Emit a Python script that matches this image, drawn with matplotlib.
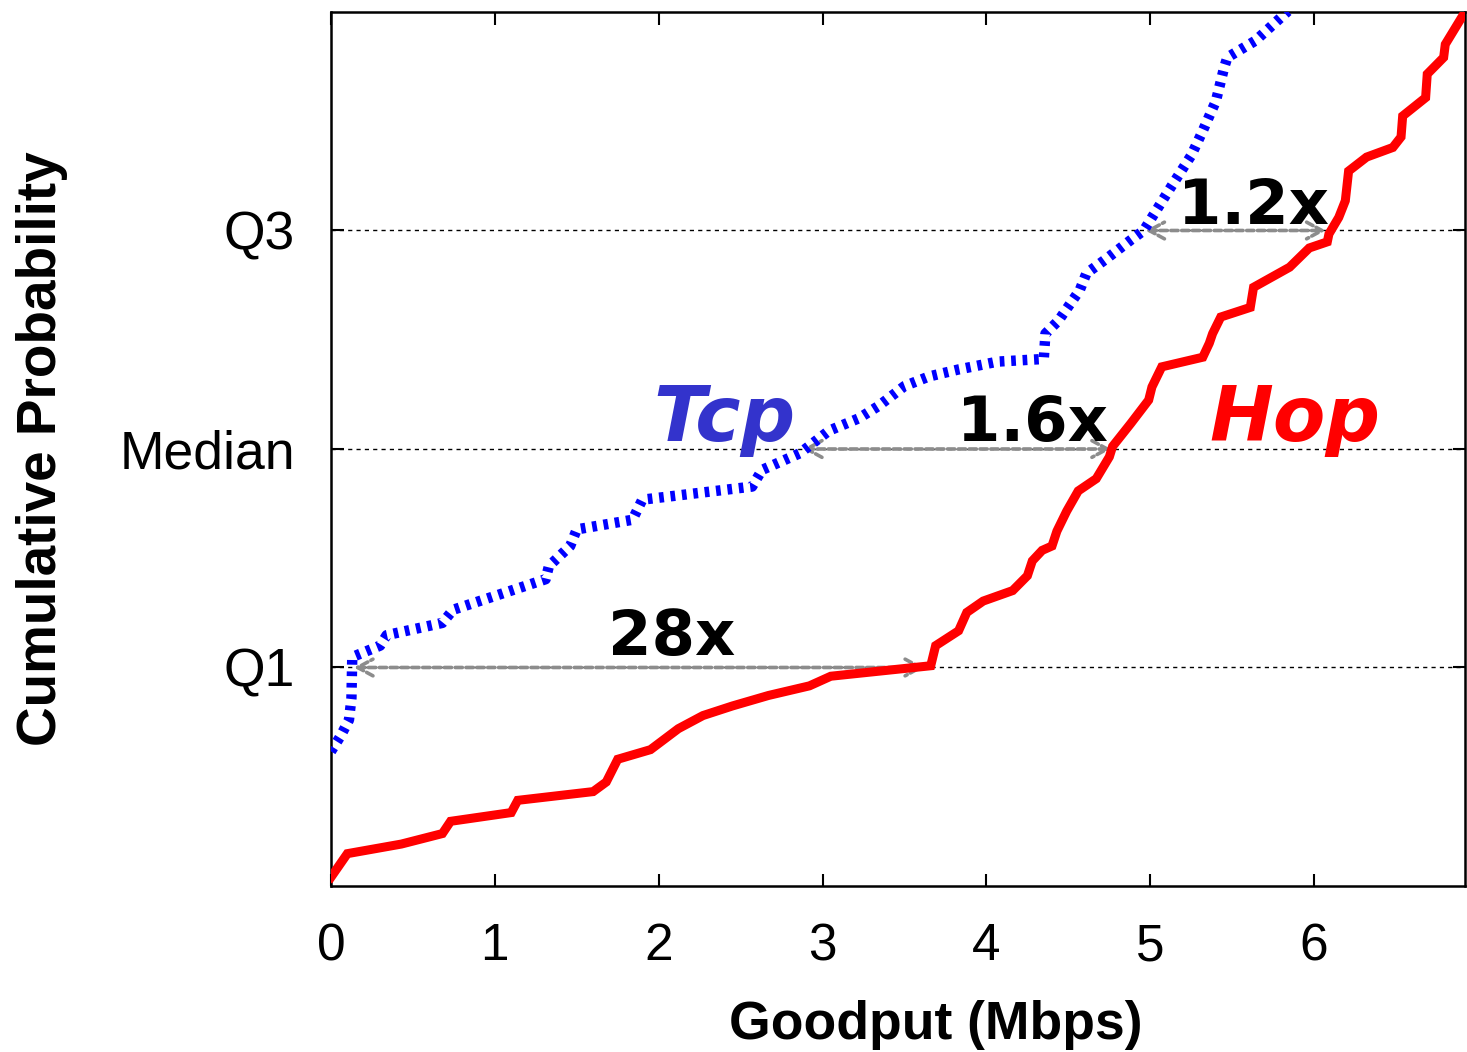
import matplotlib
matplotlib.use("Agg")
import matplotlib.pyplot as plt
from matplotlib.patches import FancyArrowPatch

# ---- data ----
hop_x = [0.00, 0.10, 0.43, 0.68, 0.73, 1.10, 1.14, 1.60, 1.68, 1.75, 1.95, 2.12,
         2.27, 2.45, 2.67, 2.92, 3.05, 3.66, 3.69, 3.83, 3.88, 3.98, 4.16, 4.25,
         4.28, 4.34, 4.40, 4.43, 4.49, 4.56, 4.67, 4.75, 4.77, 4.88, 4.99, 5.01,
         5.07, 5.32, 5.36, 5.38, 5.43, 5.61, 5.63, 5.85, 5.97, 6.08, 6.09, 6.15,
         6.19, 6.21, 6.32, 6.48, 6.53, 6.54, 6.68, 6.69, 6.79, 6.80, 6.93]
hop_y = [0.010, 0.037, 0.048, 0.060, 0.074, 0.084, 0.098, 0.108, 0.119, 0.145,
         0.156, 0.180, 0.195, 0.206, 0.218, 0.229, 0.240, 0.252, 0.275, 0.292,
         0.313, 0.326, 0.338, 0.355, 0.372, 0.384, 0.389, 0.406, 0.429, 0.452,
         0.466, 0.491, 0.503, 0.529, 0.556, 0.571, 0.594, 0.605, 0.621, 0.632,
         0.651, 0.662, 0.685, 0.708, 0.730, 0.737, 0.746, 0.765, 0.784, 0.818,
         0.834, 0.845, 0.857, 0.881, 0.902, 0.929, 0.948, 0.963, 1.003]

tcp_x = [0.00, 0.06, 0.11, 0.125, 0.13, 0.30, 0.34, 0.68, 0.745, 1.31, 1.33,
         1.46, 1.50, 1.84, 1.90, 2.57, 2.63, 2.86, 3.04, 3.22, 3.34, 3.50, 3.65,
         3.83, 4.07, 4.35, 4.36, 4.44, 4.57, 4.61, 4.72, 4.88, 4.96, 5.05, 5.12,
         5.25, 5.32, 5.40, 5.45, 5.47, 5.64, 5.84]
tcp_y = [0.154, 0.172, 0.190, 0.215, 0.262, 0.275, 0.287, 0.301, 0.316, 0.351,
         0.366, 0.389, 0.408, 0.419, 0.442, 0.457, 0.476, 0.495, 0.521, 0.535,
         0.549, 0.572, 0.583, 0.591, 0.600, 0.603, 0.632, 0.647, 0.682, 0.701,
         0.716, 0.739, 0.750, 0.777, 0.798, 0.836, 0.864, 0.898, 0.936, 0.948,
         0.967, 1.001]

quartile_levels = [0.25, 0.5, 0.75]
quartile_labels = ["Q1", "Median", "Q3"]
tcp_quartiles = [0.14, 2.88, 4.97]
hop_quartiles = [3.62, 4.76, 6.07]
ratio_labels = ["28x", "1.6x", "1.2x"]
ratio_pos = [(1.69, 0.264), (3.82, 0.509), (5.17, 0.758)]

x_ticks = [0, 1, 2, 3, 4, 5, 6]

# ---- figure ----
fig = plt.figure(figsize=(14.67, 10.52), dpi=100)
ax = fig.add_axes([0.2256, 0.1578, 0.7730, 0.8308])
ax.set_xlim(0, 6.92)
ax.set_ylim(0, 1)

for q in quartile_levels:
    ax.axhline(q, color="black", lw=1.0, linestyle=(0, (3, 3)), zorder=1)

for xa, xb, q in zip(tcp_quartiles, hop_quartiles, quartile_levels):
    arr = FancyArrowPatch((xa, q), (xb, q), arrowstyle="<->,head_length=0.55,head_width=0.3",
                          mutation_scale=20, color="#8c8c8c", lw=2.6,
                          linestyle=(0, (2, 1)), shrinkA=0, shrinkB=0, zorder=2)
    ax.add_patch(arr)

ax.plot(hop_x, hop_y, color="#ff0000", lw=6.5, solid_joinstyle="miter", zorder=3)
ax.plot(tcp_x, tcp_y, color="#0000ff", lw=7.5, linestyle=(0, (0.45, 0.65)),
        dash_capstyle="butt", zorder=3)

for lab, (px, py) in zip(ratio_labels, ratio_pos):
    ax.text(px, py, lab, fontsize=45, fontweight="bold", family="DejaVu Sans",
            color="black", va="baseline", ha="left", zorder=4)

ax.text(1.97, 0.509, "Tcp", fontsize=55, fontweight="bold", fontstyle="italic",
        family="DejaVu Sans", color="#3333cc", va="baseline", ha="left", zorder=4)
ax.text(5.36, 0.509, "Hop", fontsize=55, fontweight="bold", fontstyle="italic",
        family="DejaVu Sans", color="#ff0000", va="baseline", ha="left", zorder=4)

ax.set_xticks(x_ticks)
ax.set_xticklabels([str(t) for t in x_ticks], family="Liberation Sans", fontsize=37)
ax.set_yticks(quartile_levels)
ax.set_yticklabels(quartile_labels, family="Liberation Sans", fontsize=38.5)
ax.tick_params(axis="both", direction="in", length=9, width=1.5,
               top=True, right=True, colors="black")
ax.tick_params(axis="x", pad=26)
ax.tick_params(axis="y", pad=26)
for s in ax.spines.values():
    s.set_linewidth(1.8)

ax.set_xlabel("Goodput (Mbps)", family="Liberation Sans", fontweight="bold", fontsize=38.5)
ax.xaxis.set_label_coords(0.5335, -0.131)
ax.set_ylabel("Cumulative Probability", family="Liberation Sans", fontweight="bold",
              fontsize=39.5)
ax.yaxis.set_label_coords(-0.232, 0.5)

fig.savefig("out.png", dpi=100)
